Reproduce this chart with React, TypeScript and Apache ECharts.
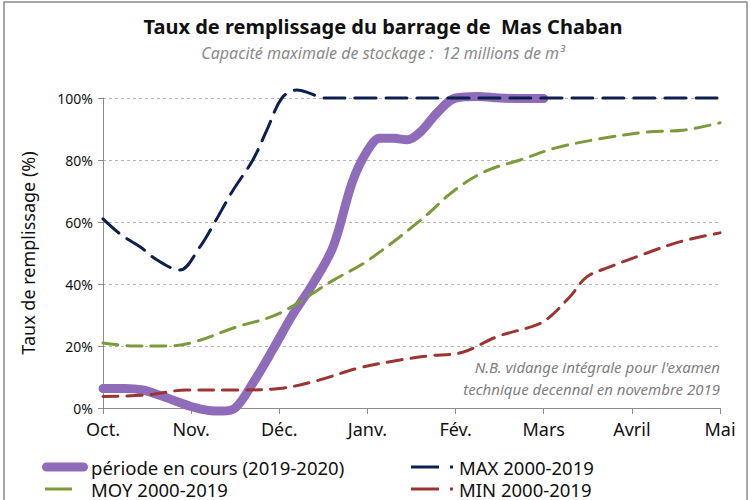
import React, { useEffect, useRef } from "react";
import * as echarts from "echarts";

const months = ["Oct.", "Nov.", "Déc.", "Janv.", "Fév.", "Mars", "Avril", "Mai"];
const yTicks = [0, 20, 40, 60, 80, 100];

const seriesNames = [
  "période en cours (2019-2020)",
  "MAX 2000-2019",
  "MOY 2000-2019",
  "MIN 2000-2019",
];

// x positions are in months from Oct. (0) to Mai (7)
const currentX = [0, 0.25, 0.45, 0.65, 0.8, 1.0, 1.2, 1.35, 1.5, 1.7, 1.93, 2.15, 2.38, 2.61, 2.83, 3.0, 3.14, 3.3, 3.45, 3.6, 3.8, 4.0, 4.25, 4.5, 4.75, 5.0];
const currentY = [6.3, 6.3, 5.8, 4, 2.5, 0.5, -0.8, -1, 0, 8, 19, 30, 40, 52, 73, 83, 87, 87, 86.5, 89, 95.5, 100, 100.5, 100, 99.8, 99.8];

const maxX = [0, 0.2, 0.42, 0.61, 0.87, 1.1, 1.25, 1.47, 1.7, 1.86, 2.03, 2.2, 2.35, 2.5, 3, 4, 5, 6, 7];
const maxY = [61, 56, 52, 47.8, 44.5, 52, 59, 70, 80, 89.7, 100, 102.6, 101.5, 100, 100, 100, 100, 100, 100];

const moyX = [0, 0.35, 0.7, 1.0, 1.5, 2.0, 2.6, 3.0, 3.6, 4.0, 4.35, 4.73, 5.15, 5.67, 6.17, 6.6, 7.0];
const moyY = [21, 20, 20, 21, 26, 30.5, 41, 47.5, 60.5, 70.5, 76.5, 80, 84, 87, 89, 89.7, 92];

const minX = [0, 0.5, 0.95, 1.5, 2.0, 2.45, 2.9, 3.37, 3.7, 4.08, 4.47, 4.92, 5.07, 5.3, 5.49, 5.75, 6.17, 6.54, 7.0];
const minY = [3.7, 4.2, 5.8, 5.8, 6.3, 9, 12.9, 15.5, 16.8, 18, 23, 26.8, 29.4, 36, 42.3, 45.5, 50, 53.6, 56.5];

const colors = ["#8e6cb9", "#0c1f4e", "#7c9a3c", "#9c3432"];

const FONT = "Noto Sans";

function zip(xs: number[], ys: number[]) {
  return xs.map((x, i) => [x, ys[i]]);
}

export default function App() {
  const ref = useRef<HTMLDivElement>(null);
  useEffect(() => {
    if (!ref.current) return;
    const chart = echarts.init(ref.current, null, { renderer: "svg" });
    const legendText = { fontFamily: FONT, fontSize: 18.5, color: "#111", lineHeight: 20 };
    const legendBase = {
      padding: 0,
      itemGap: 0,
      selectedMode: false,
      itemWidth: 0,
      itemHeight: 0,
      icon: "rect",
      itemStyle: { opacity: 0, borderWidth: 0 },
      lineStyle: { opacity: 0 },
    };
    const row1 = 467;
    const row2 = 489;
    chart.setOption({
      animation: false,
      backgroundColor: "#fff",
      title: [
        {
          text: "Taux de remplissage du barrage de  Mas Chaban",
          left: 383,
          top: 16,
          textAlign: "center",
          padding: 0,
          textStyle: { fontFamily: FONT, fontSize: 20, fontWeight: "bold", color: "#111" },
        },
        {
          text: "Capacité maximale de stockage :  12 millions de m³",
          left: 383,
          top: 45,
          textAlign: "center",
          padding: 0,
          textStyle: { fontFamily: FONT, fontSize: 16, fontStyle: "italic", fontWeight: "normal", color: "#8a8a8a" },
        },
      ],
      grid: { left: 103, right: 31, top: 98, bottom: 92, containLabel: false },
      xAxis: {
        type: "value",
        min: 0,
        max: 7,
        interval: 1,
        axisLine: { show: true, onZero: false, lineStyle: { color: "#8c8c8c", width: 1 } },
        axisTick: { show: true, length: 6, lineStyle: { color: "#8c8c8c" } },
        splitLine: { show: false },
        axisLabel: {
          formatter: (v: number) => months[Math.round(v)] ?? "",
          fontFamily: FONT,
          fontSize: 18,
          color: "#111",
          margin: 12,
        },
      },
      yAxis: {
        type: "value",
        min: yTicks[0],
        max: yTicks[yTicks.length - 1],
        interval: 20,
        name: "Taux de remplissage (%)",
        nameLocation: "middle",
        nameRotate: 90,
        nameGap: 66,
        nameTextStyle: { fontFamily: FONT, fontSize: 18, color: "#111" },
        axisLine: { show: true, lineStyle: { color: "#8c8c8c", width: 1 } },
        axisTick: { show: true, length: 5, lineStyle: { color: "#8c8c8c" } },
        splitLine: { show: true, lineStyle: { color: "#b5b5b5", type: [3, 3], width: 1 } },
        axisLabel: {
          formatter: "{value}%",
          fontFamily: FONT,
          fontSize: 14,
          color: "#111",
          margin: 10,
        },
      },
      legend: [
        { ...legendBase, left: 86, top: row1 - 10, data: [seriesNames[0]], textStyle: legendText },
        { ...legendBase, left: 86, top: row2 - 10, data: [seriesNames[2]], textStyle: legendText },
        { ...legendBase, left: 454, top: row1 - 10, data: [seriesNames[1]], textStyle: legendText },
        { ...legendBase, left: 454, top: row2 - 10, data: [seriesNames[3]], textStyle: legendText },
      ],
      series: [
        {
          name: seriesNames[0],
          type: "line",
          data: zip(currentX, currentY),
          smooth: 0.35,
          showSymbol: false,
          symbol: "none",
          clip: false,
          z: 2,
          color: colors[0],
          lineStyle: { color: colors[0], width: 9, cap: "round", join: "round" },
        },
        {
          name: seriesNames[1],
          type: "line",
          data: zip(maxX, maxY),
          smooth: 0.35,
          showSymbol: false,
          symbol: "none",
          clip: false,
          z: 3,
          color: colors[1],
          lineStyle: { color: colors[1], width: 3, type: [21, 10], cap: "round" },
        },
        {
          name: seriesNames[2],
          type: "line",
          data: zip(moyX, moyY),
          smooth: 0.35,
          showSymbol: false,
          symbol: "none",
          clip: false,
          z: 3,
          color: colors[2],
          lineStyle: { color: colors[2], width: 3, type: [15, 9], cap: "round" },
        },
        {
          name: seriesNames[3],
          type: "line",
          data: zip(minX, minY),
          smooth: 0.35,
          showSymbol: false,
          symbol: "none",
          clip: false,
          z: 3,
          color: colors[3],
          lineStyle: { color: colors[3], width: 3, type: [15, 9], cap: "round" },
        },
      ],
      graphic: [
        {
          type: "rect",
          silent: true,
          shape: { x: 4, y: 2, width: 743, height: 520 },
          style: { fill: "none", stroke: "#8a8a8a", lineWidth: 1.5 },
        },
        // legend keys
        { type: "rect", silent: true, shape: { x: 42, y: row1 - 4.5, width: 46, height: 9, r: 4.5 }, style: { fill: colors[0] } },
        { type: "rect", silent: true, shape: { x: 45, y: row2 - 1.5, width: 27, height: 3 }, style: { fill: colors[2] } },
        { type: "rect", silent: true, shape: { x: 411, y: row1 - 1.5, width: 28, height: 3 }, style: { fill: colors[1] } },
        { type: "rect", silent: true, shape: { x: 450, y: row1 - 1.5, width: 3, height: 3 }, style: { fill: colors[1] } },
        { type: "rect", silent: true, shape: { x: 411, y: row2 - 1.5, width: 28, height: 3 }, style: { fill: colors[3] } },
        { type: "rect", silent: true, shape: { x: 450, y: row2 - 1.5, width: 3, height: 3 }, style: { fill: colors[3] } },
        {
          type: "text",
          x: 720,
          y: 367,
          silent: true,
          style: {
            text: "N.B. vidange intégrale pour l'examen",
            align: "right",
            verticalAlign: "middle",
            fontFamily: FONT,
            fontSize: 15,
            fontStyle: "italic",
            fill: "#808080",
          },
        },
        {
          type: "text",
          x: 720,
          y: 389,
          silent: true,
          style: {
            text: "technique decennal en novembre 2019",
            align: "right",
            verticalAlign: "middle",
            fontFamily: FONT,
            fontSize: 15,
            fontStyle: "italic",
            fill: "#808080",
          },
        },
      ],
    });
    return () => chart.dispose();
  }, []);
  return (
    <div
      ref={ref}
      style={{ position: "fixed", left: 0, top: 0, width: 751, height: 500, background: "#fff" }}
    />
  );
}
